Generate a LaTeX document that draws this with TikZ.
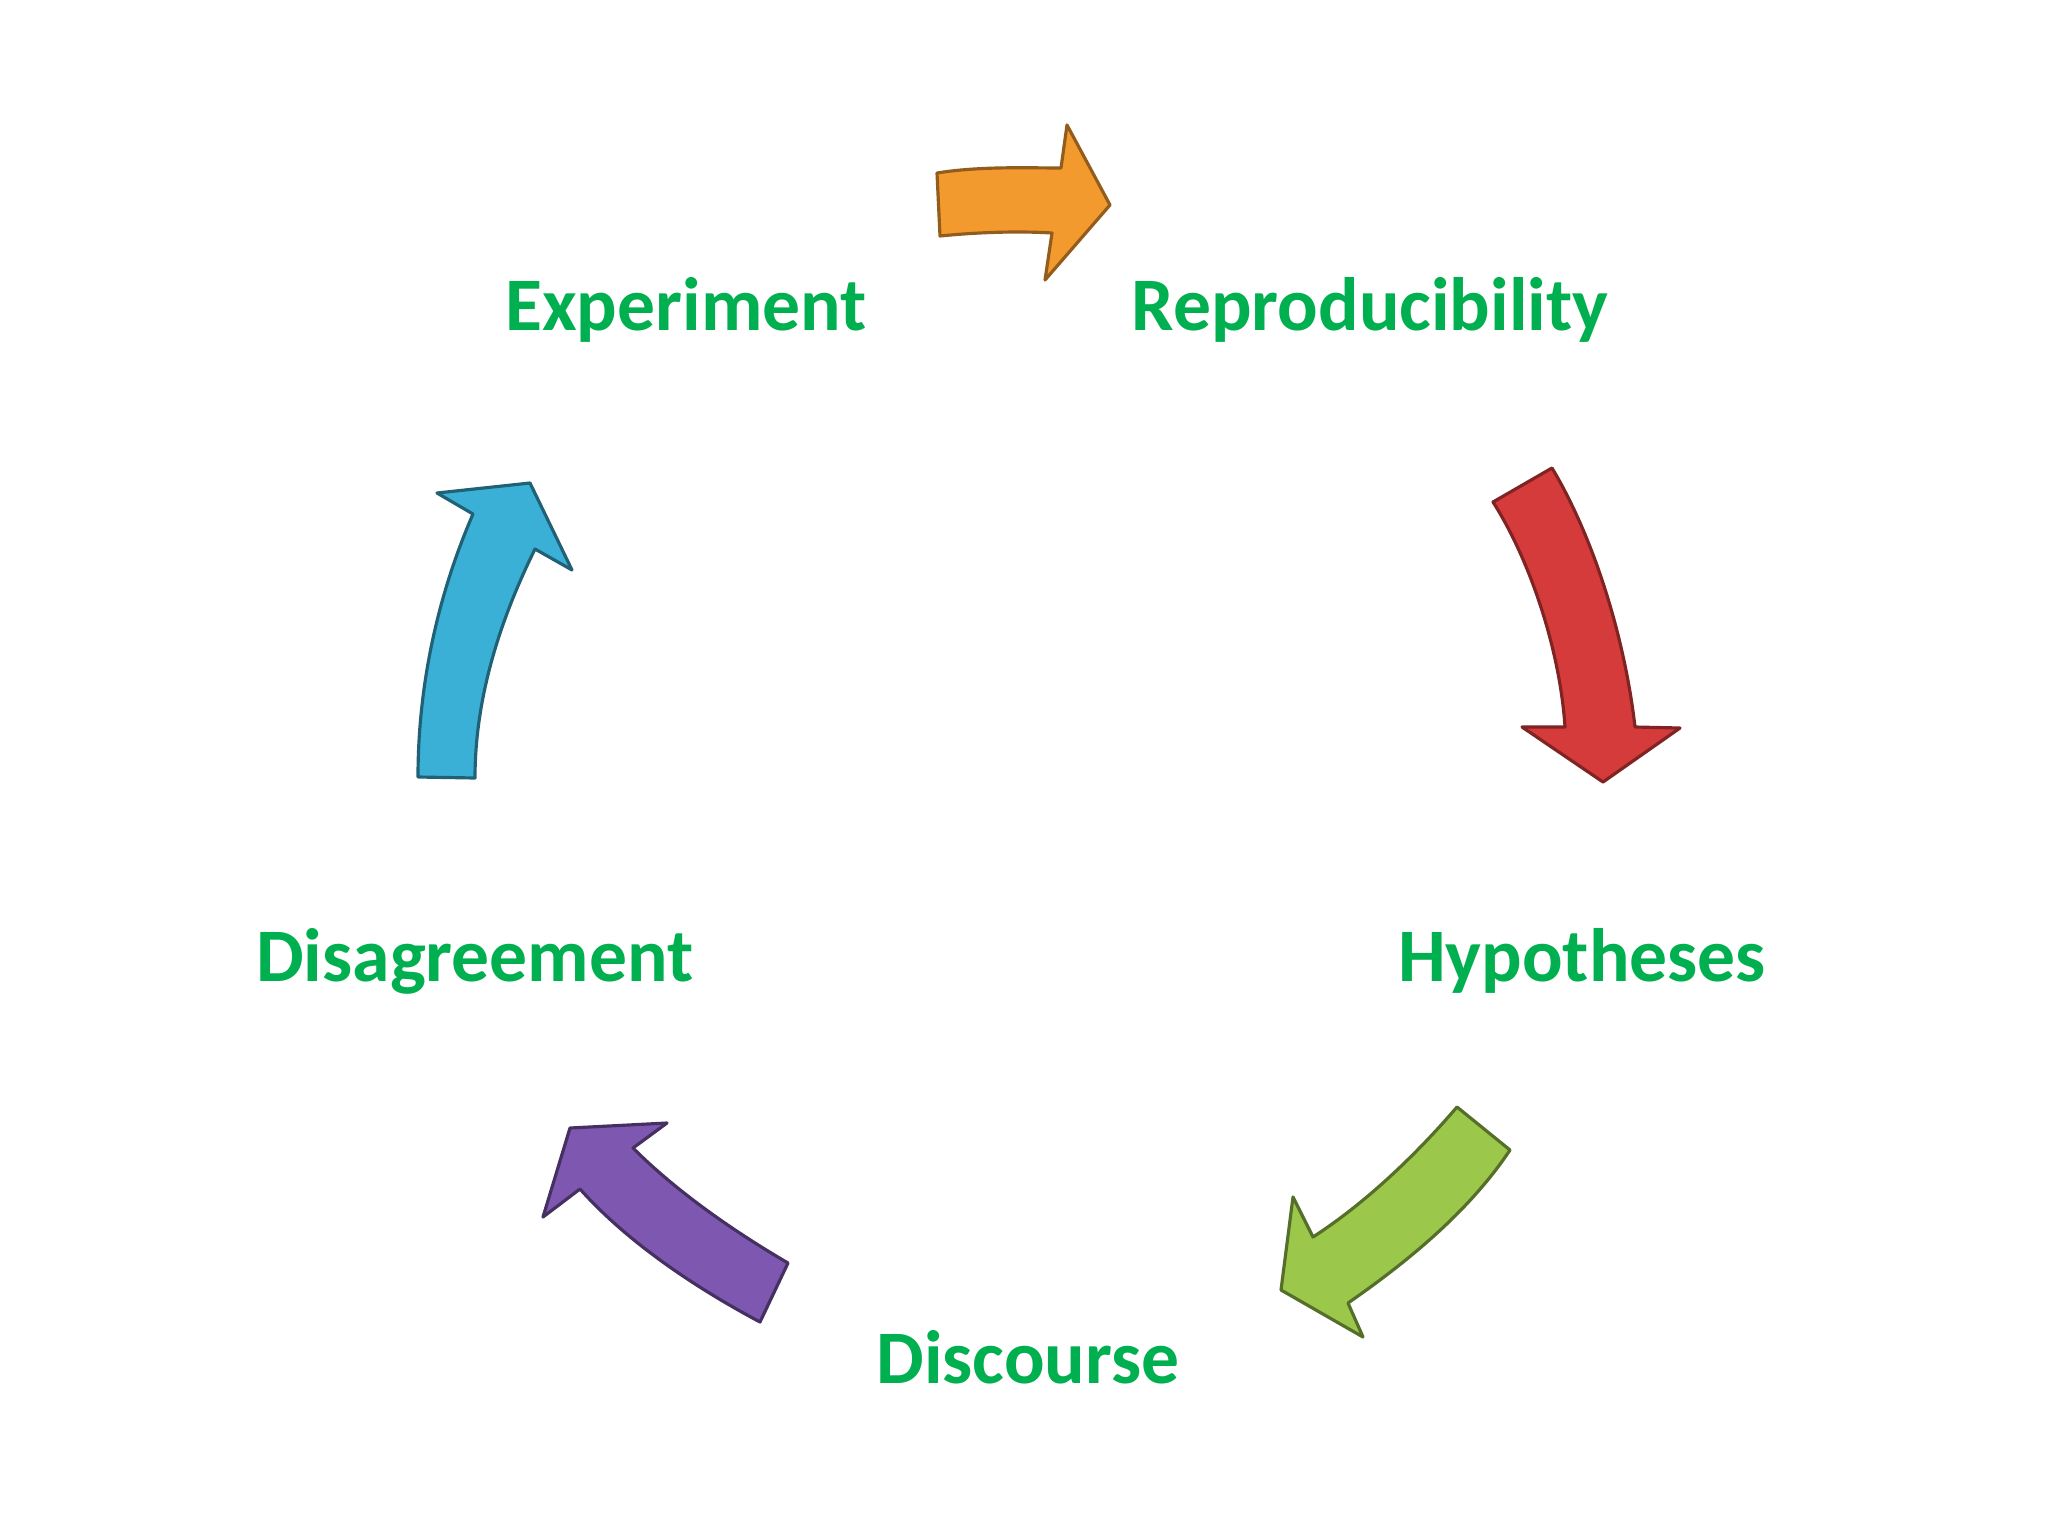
\documentclass[tikz,border=0pt]{standalone}
\usepackage{fontspec}
\setmainfont{Carlito}
\usepackage{tikz}
\usetikzlibrary{positioning}
\definecolor{lblgreen}{HTML}{00B050}
\definecolor{orng}{HTML}{F39A2E}
\definecolor{rd}{HTML}{D63B3B}
\definecolor{lgreen}{HTML}{9BC84A}
\definecolor{purp}{HTML}{7E57B0}
\definecolor{cyanb}{HTML}{3BB0D6}
\tikzset{
  lbl/.style={font=\fontsize{21.5}{24}\selectfont\bfseries,text=lblgreen,anchor=base,inner sep=0pt},
  blk/.style={line width=0.9pt,line join=round},
  orngarr/.style={blk,fill=orng,draw=orng!60!black},
  redarr/.style={blk,fill=rd,draw=rd!60!black},
  grnarr/.style={blk,fill=lgreen,draw=lgreen!55!black},
  purarr/.style={blk,fill=purp,draw=purp!55!black},
  cyaarr/.style={blk,fill=cyanb,draw=cyanb!55!black},
}
\begin{document}
\begin{tikzpicture}[x=0.01cm,y=-0.01cm]
  \useasboundingbox[fill=white] (0,0) rectangle (2048,1536);
  % labels
  \node[lbl] (exp) at (686,330) {Experiment};
  \node[lbl] (rep) at (1370,330) {Reproducibility};
  \node[lbl] (hyp) at (1582,981) {Hypotheses};
  \node[lbl] (dis) at (1028,1383) {Discourse};
  \node[lbl] (dsg) at (475,981) {Disagreement};
  % block arrows
  \draw[orngarr] (937,173) .. controls (980,166) and (1030,168) .. (1061,168)
    -- (1067,125) -- (1110,205) -- (1045,280) -- (1052,233)
    .. controls (1020,231) and (980,232) .. (940,236) -- cycle;
  \draw[redarr] (1493,502) .. controls (1530,560) and (1560,650) .. (1565,727)
    -- (1522,727) -- (1603,782) -- (1680,728) -- (1635,727)
    .. controls (1625,640) and (1595,540) .. (1552,468) -- cycle;
  \draw[grnarr] (1457,1107) .. controls (1420,1150) and (1370,1200) .. (1313,1237)
    -- (1293,1197) -- (1281,1290) -- (1363,1337) -- (1348,1303)
    .. controls (1410,1260) and (1470,1210) .. (1510,1150) -- cycle;
  \draw[purarr] (760,1322) .. controls (700,1290) and (630,1245) .. (580,1189)
    -- (543,1217) -- (570,1128) -- (667,1123) -- (633,1148)
    .. controls (680,1195) and (740,1235) .. (788,1263) -- cycle;
  \draw[cyaarr] (418,777) .. controls (418,680) and (440,590) .. (473,514)
    -- (437,493) -- (530,483) -- (572,570) -- (535,549)
    .. controls (505,610) and (475,690) .. (475,778) -- cycle;
\end{tikzpicture}
\end{document}
